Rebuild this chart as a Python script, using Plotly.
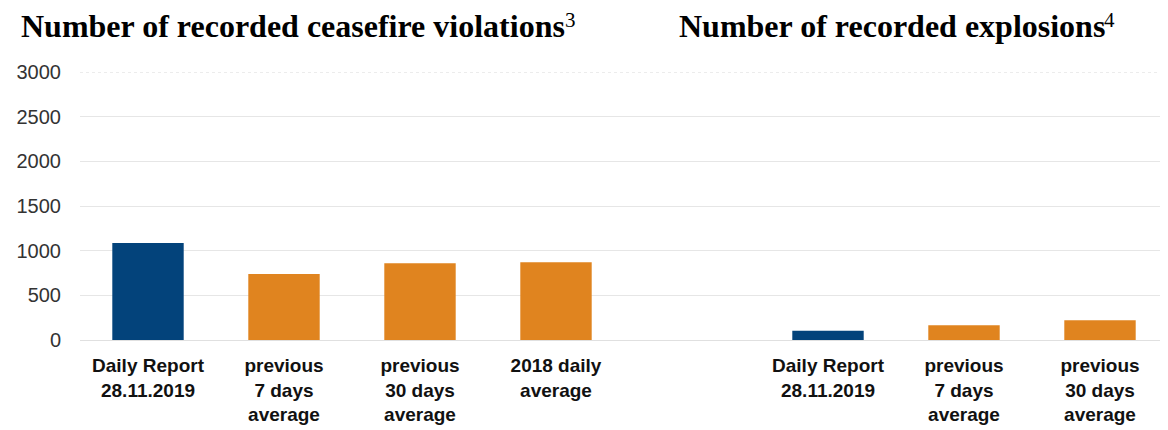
import plotly.graph_objects as go

# ---- data ----
cfv_labels = ["Daily Report<br>28.11.2019", "previous<br>7 days<br>average",
              "previous<br>30 days<br>average", "2018 daily<br>average"]
cfv_values = [1086, 739, 859, 870]

exp_labels = ["Daily Report<br>28.11.2019", "previous<br>7 days<br>average",
              "previous<br>30 days<br>average"]
exp_values = [104, 165, 220]

y_ticks = [0, 500, 1000, 1500, 2000, 2500, 3000]

titles = ["Number of recorded ceasefire violations", "Number of recorded explosions"]
footnotes = ["3", "4"]

NAVY = "#03437b"
ORANGE = "#e0841f"

# positions: left group, one empty slot, right group
cfv_x = list(range(len(cfv_labels)))
exp_x = [len(cfv_labels) + 1 + i for i in range(len(exp_labels))]

cfv_colors = [NAVY] + [ORANGE] * (len(cfv_values) - 1)
exp_colors = [NAVY] + [ORANGE] * (len(exp_values) - 1)

L, T, PW, PH = 64, 64, 1096, 268
W, H = 1168, 430


def px_x(p):
    return (p - L) / PW


def px_y(p):
    return (T + PH - p) / PH


fig = go.Figure()
fig.add_trace(go.Bar(x=cfv_x, y=cfv_values, marker_color=cfv_colors,
                     marker_line_width=0, width=0.525, showlegend=False))
fig.add_trace(go.Bar(x=exp_x, y=exp_values, marker_color=exp_colors,
                     marker_line_width=0, width=0.525, showlegend=False))

fig.update_layout(
    width=W, height=H,
    margin=dict(l=L, r=W - L - PW, t=T, b=H - T - PH),
    plot_bgcolor="white", paper_bgcolor="white",
    font=dict(family="Liberation Sans, Arial, sans-serif", color="#000"),
    xaxis=dict(
        range=[-0.5, 7.5],
        tickmode="array",
        tickvals=cfv_x + exp_x,
        ticktext=cfv_labels + exp_labels,
        tickfont=dict(size=19, color="#111", weight="bold"),
        showgrid=False, zeroline=False, showline=False,
        ticks="", ticklabelstandoff=12,
    ),
    yaxis=dict(
        range=[0, 3000],
        tickmode="array", tickvals=y_ticks,
        tickfont=dict(size=20, color="#333"),
        showgrid=True, gridcolor="#e6e6e6", gridwidth=1,
        zeroline=True, zerolinecolor="#e0e0e0", zerolinewidth=1,
        showline=False, ticks="", ticklabelstandoff=18,
    ),
)

# dotted top gridline
fig.add_shape(type="line", xref="paper", yref="y", x0=0, x1=1,
              y0=y_ticks[-1], y1=y_ticks[-1],
              line=dict(color="#d9d9d9", width=1, dash="dot"))

title_font = dict(family="Liberation Serif, Times New Roman, serif", size=32, color="#000")
sup_font = dict(family="Liberation Serif, Times New Roman, serif", size=21, color="#000")
title_left = [3, 665]
sup_left = [551, 1094]
for title, note, tx, sx in zip(titles, footnotes, title_left, sup_left):
    fig.add_annotation(xref="paper", yref="paper", x=px_x(tx), y=px_y(18),
                       xanchor="left", yanchor="middle", showarrow=False,
                       text="<b>" + title + "</b>", font=title_font)
    fig.add_annotation(xref="paper", yref="paper", x=px_x(sx), y=px_y(12),
                       xanchor="left", yanchor="middle", showarrow=False,
                       text=note, font=sup_font)

fig.write_html("out.html")
